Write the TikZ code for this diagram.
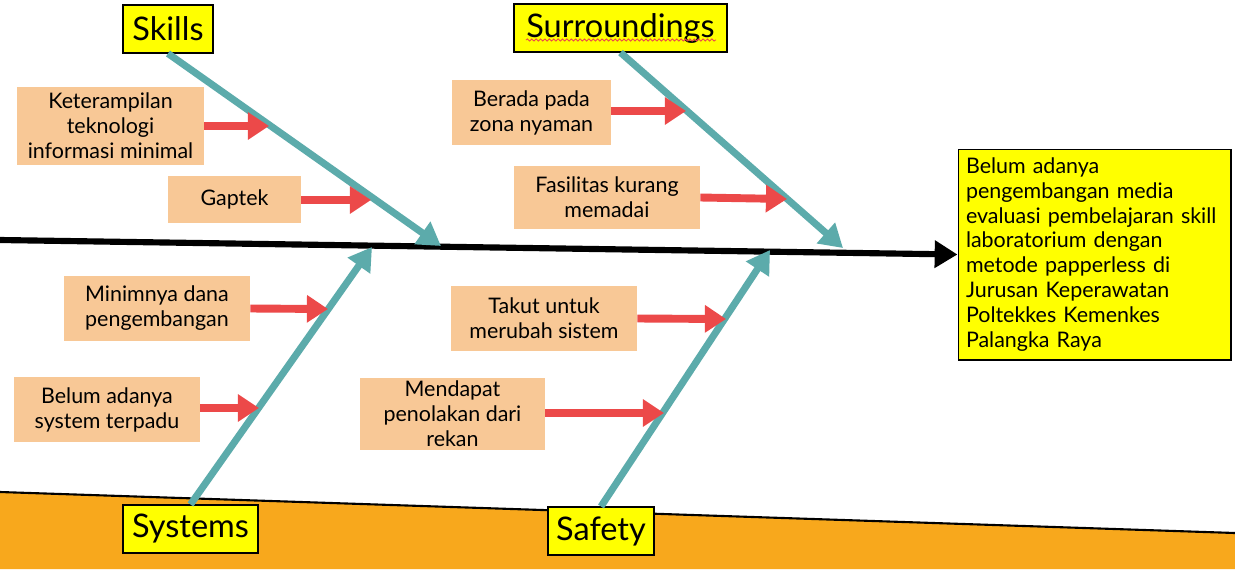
\documentclass[tikz,border=0pt]{standalone}
\usepackage{fontspec}
\setmainfont{Lato}
\usetikzlibrary{arrows.meta,decorations.pathmorphing}
\definecolor{bonecol}{RGB}{92,171,171}
\definecolor{redarr}{RGB}{236,73,73}
\definecolor{peach}{RGB}{248,200,150}
\definecolor{orangefill}{RGB}{248,168,28}
\definecolor{yel}{RGB}{255,255,0}
\begin{document}
\begin{tikzpicture}[x=0.02cm,y=-0.02cm,
  catbox/.style={draw=black, line width=0.6pt, fill=yel, font=\fontsize{18.5}{21}\selectfont, inner sep=0pt, minimum height=0.96cm},
  causebox/.style={fill=peach, align=center, font=\fontsize{12.2}{14.2}\selectfont, inner sep=0pt, minimum height=1.3cm, minimum width=3.72cm},
  bone/.style={draw=bonecol, line width=4pt, -{Triangle[length=13pt,width=15pt]}},
  subarrow/.style={draw=redarr, line width=4.5pt, -{Triangle[length=12pt,width=15pt]}},
  spine/.style={draw=black, line width=3.5pt, -{Triangle[length=13pt,width=15pt]}},
  effectbox/.style={draw=black, line width=0.6pt, fill=yel, align=left, font=\fontsize{12.2}{14.2}\selectfont, inner xsep=0.16cm, inner ysep=0pt, text width=5.14cm, minimum height=4.22cm}
]
\useasboundingbox (0,0) rectangle (1235,569);
\fill[white] (0,0) rectangle (1235,569);
% bottom orange band
\fill[orangefill] (0,492) -- (1235,533) -- (1235,569) -- (0,569) -- cycle;
\draw[line width=1.2pt] (0,492) -- (1235,533);

% category boxes
\node[catbox, minimum width=1.8cm] (skills) at (168,29) {Skills};
\node[catbox, minimum width=4.26cm] (surr) at (620.5,28) {Surroundings};
\node[catbox, minimum width=2.7cm] (systems) at (190.5,529) {Systems};
\node[catbox, minimum width=2.12cm] (safety) at (601,531) {Safety};
\draw[redarr, line width=0.5pt, decorate, decoration={snake, amplitude=0.6pt, segment length=2.5pt}] (526,40) -- (716,40);

% effect box
\node[effectbox] (effect) at (1094.5,254.5) {Belum adanya\\pengembangan media\\evaluasi pembelajaran skill\\laboratorium dengan\\metode papperless di\\Jurusan Keperawatan\\Poltekkes Kemenkes\\Palangka Raya};

% spine
\coordinate (tail) at (0,240);
\draw[spine] (tail) -- (effect.west);

% bone tips
\coordinate (skTip) at (441,246);
\coordinate (suTip) at (843,248);
\coordinate (syTip) at (372,247);
\coordinate (saTip) at (770,250);
\draw[bone] (skills.south) -- (skTip);
\draw[bone] (surr.south) -- (suTip);
\draw[bone] (systems.north) -- (syTip);
\draw[bone] (safety.north) -- (saTip);

% cause boxes
\node[causebox, minimum width=3.74cm, minimum height=1.56cm] (c1) at (110.5,126) {Keterampilan\\teknologi\\informasi minimal};
\node[causebox, minimum width=2.66cm, minimum height=0.94cm] (c2) at (234.5,199.5) {Gaptek};
\node[causebox, minimum width=3.18cm] (c3) at (531.5,112.5) {Berada pada\\zona nyaman};
\node[causebox, minimum height=1.26cm] (c4) at (607,197.5) {Fasilitas kurang\\memadai};
\node[causebox] (c5) at (157,308.5) {Minimnya dana\\pengembangan};
\node[causebox] (c6) at (107,409.5) {Belum adanya\\system terpadu};
\node[causebox] (c7) at (544,318.5) {Takut untuk\\merubah sistem};
\node[causebox, minimum width=3.7cm, minimum height=1.44cm] (c8) at (452.5,414) {Mendapat\\penolakan dari\\rekan};

% sub-cause arrows
\coordinate (t1) at (269,126);
\coordinate (t2) at (371,200);
\coordinate (t3) at (686,111);
\coordinate (t4) at (787,199);
\coordinate (t5) at (328,309);
\coordinate (t6) at (259,408);
\coordinate (t7) at (726,319);
\coordinate (t8) at (664,413);
\draw[subarrow] (c1.east |- t1) -- (t1);
\draw[subarrow] (c2.east |- t2) -- (t2);
\draw[subarrow] (c3.east |- t3) -- (t3);
\draw[subarrow] (c4.east) -- (t4);
\draw[subarrow] (c5.east) -- (t5);
\draw[subarrow] (c6.east |- t6) -- (t6);
\draw[subarrow] (c7.east) -- (t7);
\draw[subarrow] (c8.east |- t8) -- (t8);
\end{tikzpicture}
\end{document}
